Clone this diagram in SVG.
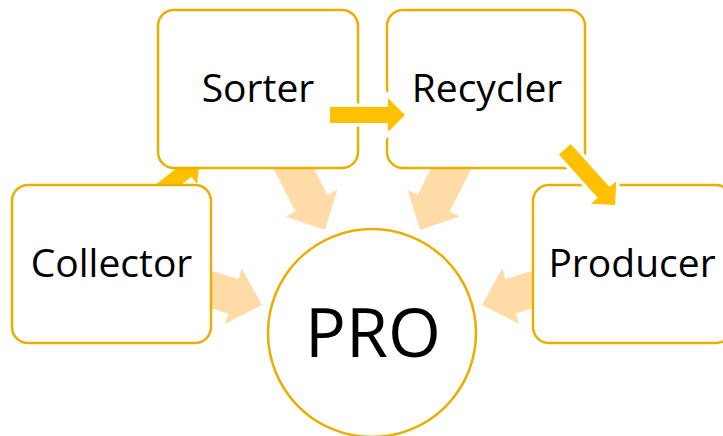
<svg xmlns="http://www.w3.org/2000/svg" width="723" height="436" viewBox="0 0 723 436">
  <defs>
    <style>
      .box { fill: #ffffff; stroke: #EAAE00; stroke-width: 2.5; }
      .label { font-family: "Open Sans", "Liberation Sans", sans-serif; font-size: 39px; fill: #000000; text-anchor: middle; }
      .big { font-family: "Open Sans", "Liberation Sans", sans-serif; font-size: 68px; fill: #000000; text-anchor: middle; }
      .soft { fill: #FFDBA8; }
      .bold { fill: #FFC000; }
      .halo { fill: #FFC000; stroke: #ffffff; stroke-width: 7; paint-order: stroke; stroke-linejoin: miter; }
    </style>
    <!-- wide arrow pointing along +x, tip at origin -->
    <polygon id="softArrow" points="0,0 -30,-29 -30,-18 -80,-18 -80,18 -30,18 -30,29"/>
    <!-- narrow arrow pointing along +x, tip at origin -->
    <polygon id="boldArrow" points="0,0 -17,-17 -17,-8 -75,-8 -75,8 -17,8 -17,17"/>
  </defs>

  <rect width="723" height="436" fill="#ffffff"/>

  <!-- connectors drawn beneath the nodes -->
  <g id="connectors-under">
    <use href="#softArrow" class="soft" transform="translate(325,230) rotate(63)"/>
    <use href="#softArrow" class="soft" transform="translate(420,230) rotate(117)"/>
    <use href="#softArrow" class="soft" transform="translate(262,305) rotate(17)"/>
    <use href="#softArrow" class="soft" transform="translate(482,305) rotate(163)"/>
    <use href="#boldArrow" class="bold" transform="translate(200,160) rotate(-38)"/>
  </g>

  <g id="collector">
    <rect class="box" x="12" y="185" width="199" height="158" rx="16"/>
    <text class="label" x="111.5" y="277">Collector</text>
  </g>
  <g id="sorter">
    <rect class="box" x="158" y="10" width="200" height="158" rx="16"/>
    <text class="label" x="258" y="102">Sorter</text>
  </g>
  <g id="recycler">
    <rect class="box" x="387" y="10" width="198" height="158" rx="16"/>
    <text class="label" x="487" y="102">Recycler</text>
  </g>
  <g id="producer">
    <rect class="box" x="533" y="185" width="199" height="158" rx="16"/>
    <text class="label" x="632" y="277">Producer</text>
  </g>
  <g id="pro">
    <circle class="box" cx="372" cy="333" r="104"/>
    <text class="big" x="373" y="357">PRO</text>
  </g>

  <!-- connectors drawn over the nodes -->
  <g id="connectors-over">
    <use href="#boldArrow" class="halo" transform="translate(405,115)"/>
    <use href="#boldArrow" class="halo" transform="translate(615,205) rotate(48)"/>
  </g>
</svg>
